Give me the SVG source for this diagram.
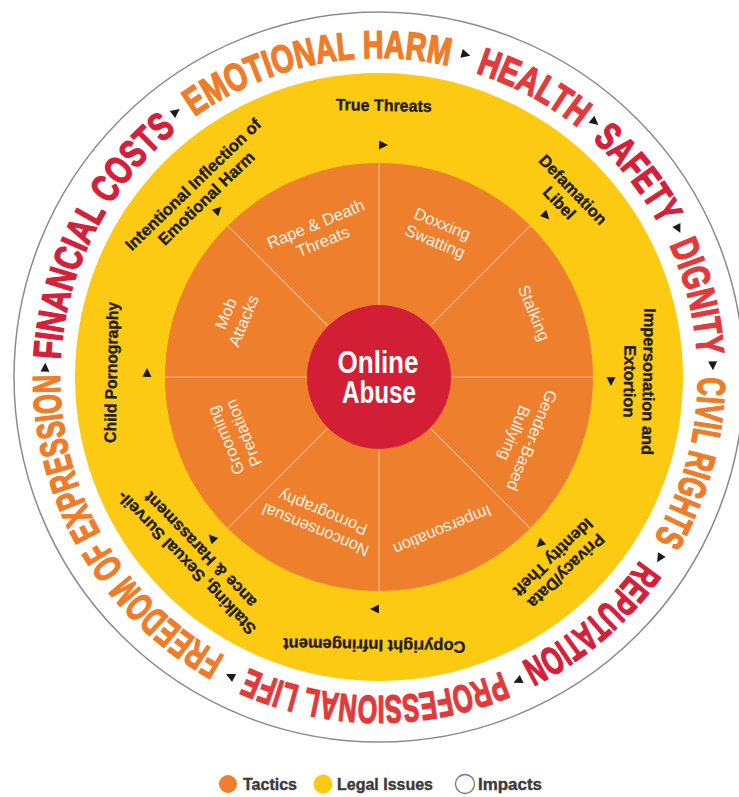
<svg xmlns="http://www.w3.org/2000/svg" width="739" height="797" viewBox="0 0 739 797">
  <style>
    .impact { font-family: "Liberation Sans", Arial, sans-serif; font-weight: 700; font-size: 39px; stroke-width: 1.4px; stroke-linejoin: round; }
    .legal { font-family: "Liberation Sans", Arial, sans-serif; font-weight: 700; font-size: 16.5px; fill: #1e1e1e; stroke: #1e1e1e; stroke-width: 0.35px; text-anchor: middle; }
    .tactic { font-family: "Liberation Sans", Arial, sans-serif; font-weight: 400; font-size: 16.5px; fill: #fdf1e6; text-anchor: middle; }
    .hub { font-family: "Liberation Sans", Arial, sans-serif; font-weight: 700; font-size: 31px; fill: #ffffff; text-anchor: middle; }
    .legend { font-family: "Liberation Sans", Arial, sans-serif; font-weight: 700; font-size: 17px; fill: #3a3a3a; stroke: #3a3a3a; stroke-width: 0.4px; }
    .red { fill: #d4203a; stroke: #d4203a; }
    .bright { fill: #e23a3c; stroke: #e23a3c; }
    .orange { fill: #ee7c28; stroke: #ee7c28; }
    .divider { stroke: #f6b682; stroke-width: 1.2; }
    .arrow { fill: #1a1a1a; }
  </style>
  <defs>
    <!-- two clockwise turns of the impact ring baseline, starting at 12 o'clock -->
    <path id="impactPath" d="M379,58 A319,319 0 0 1 379,696 A319,319 0 0 1 379,58 A319,319 0 0 1 379,696 A319,319 0 0 1 379,58" fill="none"/>
    <path id="tri" d="M-4,-4.5 L5,0 L-4,4.5 Z"/>
  </defs>

  <rect width="739" height="797" fill="#ffffff"/>

  <!-- rings -->
  <g id="ring-impacts">
    <circle cx="379" cy="377" r="365" fill="#ffffff" stroke="#8c8c8c" stroke-width="1.5"/>
  </g>
  <g id="ring-legal">
    <circle cx="379" cy="377" r="304" fill="#fcc913"/>
  </g>
  <g id="ring-tactics">
    <circle cx="379" cy="377" r="214" fill="#ee7f2c"/>
  </g>

  <!-- sector dividers of the tactics ring -->
  <g id="dividers" class="divider">
    <line x1="379" y1="305" x2="379" y2="163" transform="rotate(0 379 377)"/>
    <line x1="379" y1="305" x2="379" y2="163" transform="rotate(45 379 377)"/>
    <line x1="379" y1="305" x2="379" y2="163" transform="rotate(90 379 377)"/>
    <line x1="379" y1="305" x2="379" y2="163" transform="rotate(135 379 377)"/>
    <line x1="379" y1="305" x2="379" y2="163" transform="rotate(180 379 377)"/>
    <line x1="379" y1="305" x2="379" y2="163" transform="rotate(225 379 377)"/>
    <line x1="379" y1="305" x2="379" y2="163" transform="rotate(270 379 377)"/>
    <line x1="379" y1="305" x2="379" y2="163" transform="rotate(315 379 377)"/>
  </g>

  <!-- hub -->
  <g id="online-abuse">
    <circle cx="379" cy="377" r="72" fill="#d31f36"/>
    <text class="hub" x="378" y="373" textLength="81" lengthAdjust="spacingAndGlyphs">Online</text>
    <text class="hub" x="379" y="403" textLength="74" lengthAdjust="spacingAndGlyphs">Abuse</text>
  </g>

  <!-- tactics -->
  <g id="tactic-rape-death-threats" transform="rotate(337.5 379 377)">
    <text class="tactic" x="379" y="217">Rape &amp; Death</text>
    <text class="tactic" x="379" y="236">Threats</text>
  </g>
  <g id="tactic-doxxing-swatting" transform="rotate(22.5 379 377)">
    <text class="tactic" x="379" y="217">Doxxing</text>
    <text class="tactic" x="379" y="236">Swatting</text>
  </g>
  <g id="tactic-stalking" transform="rotate(67.5 379 377)">
    <text class="tactic" x="379" y="215">Stalking</text>
  </g>
  <g id="tactic-gender-based-bullying" transform="rotate(112.5 379 377)">
    <text class="tactic" x="379" y="217">Gender-Based</text>
    <text class="tactic" x="379" y="236">Bullying</text>
  </g>
  <g id="tactic-impersonation" transform="rotate(157.5 379 377)">
    <text class="tactic" x="379" y="217">Impersonation</text>
  </g>
  <g id="tactic-nonconsensual-pornography" transform="rotate(202.5 379 377)">
    <text class="tactic" x="379" y="217">Nonconsensual</text>
    <text class="tactic" x="379" y="236">Pornography</text>
  </g>
  <g id="tactic-grooming-predation" transform="rotate(247.5 379 377)">
    <text class="tactic" x="379" y="217">Grooming</text>
    <text class="tactic" x="379" y="236">Predation</text>
  </g>
  <g id="tactic-mob-attacks" transform="rotate(292.5 379 377)">
    <text class="tactic" x="379" y="217">Mob</text>
    <text class="tactic" x="379" y="236">Attacks</text>
  </g>

  <!-- legal issues -->
  <g id="legal-true-threats" transform="rotate(1 379 377)">
    <text class="legal" x="379" y="111" textLength="96" lengthAdjust="spacingAndGlyphs">True Threats</text>
    <use href="#tri" class="arrow" x="379" y="145"/>
  </g>
  <g id="legal-defamation-libel" transform="rotate(46 379 377)">
    <text class="legal" x="379" y="113">Defamation</text>
    <text class="legal" x="379" y="132">Libel</text>
    <use href="#tri" class="arrow" x="379" y="145"/>
  </g>
  <g id="legal-impersonation-extortion" transform="rotate(91 379 377)">
    <text class="legal" x="379" y="113" textLength="147" lengthAdjust="spacingAndGlyphs">Impersonation and</text>
    <text class="legal" x="379" y="132">Extortion</text>
    <use href="#tri" class="arrow" x="379" y="145"/>
  </g>
  <g id="legal-privacy-identity-theft" transform="rotate(136 379 377)">
    <text class="legal" x="379" y="113">Privacy/Data</text>
    <text class="legal" x="379" y="132">Identity Theft</text>
    <use href="#tri" class="arrow" x="379" y="145"/>
  </g>
  <g id="legal-copyright" transform="rotate(181 379 377)">
    <text class="legal" x="379" y="114">Copyright Infringement</text>
    <use href="#tri" class="arrow" x="379" y="145"/>
  </g>
  <g id="legal-stalking-surveillance" transform="rotate(226 379 377)">
    <text class="legal" x="379" y="115">Stalking, Sexual Surveil-</text>
    <text class="legal" x="379" y="134">ance &amp; Harassment</text>
    <use href="#tri" class="arrow" x="379" y="145"/>
  </g>
  <g id="legal-child-pornography" transform="rotate(271 379 377)">
    <text class="legal" x="379" y="115" textLength="141" lengthAdjust="spacingAndGlyphs">Child Pornography</text>
    <use href="#tri" class="arrow" x="379" y="145"/>
  </g>
  <g id="legal-emotional-harm" transform="rotate(316 379 377)">
    <text class="legal" x="379" y="115">Intentional Inflection of</text>
    <text class="legal" x="379" y="134">Emotional Harm</text>
    <use href="#tri" class="arrow" x="379" y="145"/>
  </g>

  <!-- impacts -->
  <g id="impacts">
    <text class="impact red"><textPath href="#impactPath" startOffset="1519.96" textLength="264.46" lengthAdjust="spacingAndGlyphs">FINANCIAL COSTS</textPath></text>
    <text class="impact orange"><textPath href="#impactPath" startOffset="1806.7" textLength="267.24" lengthAdjust="spacingAndGlyphs">EMOTIONAL HARM</textPath></text>
    <text class="impact bright"><textPath href="#impactPath" startOffset="97.99" textLength="116.92" lengthAdjust="spacingAndGlyphs">HEALTH</textPath></text>
    <text class="impact red"><textPath href="#impactPath" startOffset="233.28" textLength="110.24" lengthAdjust="spacingAndGlyphs">SAFETY</textPath></text>
    <text class="impact bright"><textPath href="#impactPath" startOffset="364.68" textLength="114.69" lengthAdjust="spacingAndGlyphs">DIGNITY</textPath></text>
    <text class="impact orange"><textPath href="#impactPath" startOffset="501.08" textLength="169.81" lengthAdjust="spacingAndGlyphs">CIVIL RIGHTS</textPath></text>
    <text class="impact red"><textPath href="#impactPath" startOffset="695.95" textLength="158.68" lengthAdjust="spacingAndGlyphs">REPUTATION</textPath></text>
    <text class="impact bright"><textPath href="#impactPath" startOffset="875.78" textLength="260.01" lengthAdjust="spacingAndGlyphs">PROFESSIONAL LIFE</textPath></text>
    <text class="impact orange"><textPath href="#impactPath" startOffset="1162.51" textLength="342.41" lengthAdjust="spacingAndGlyphs">FREEDOM OF EXPRESSION</textPath></text>
    <g class="arrow">
      <use href="#tri" x="379" y="43" transform="rotate(322.5 379 377)"/>
      <use href="#tri" x="379" y="43" transform="rotate(15 379 377)"/>
      <use href="#tri" x="379" y="43" transform="rotate(40.2 379 377)"/>
      <use href="#tri" x="379" y="43" transform="rotate(63.6 379 377)"/>
      <use href="#tri" x="379" y="43" transform="rotate(88 379 377)"/>
      <use href="#tri" x="379" y="43" transform="rotate(122.8 379 377)"/>
      <use href="#tri" x="379" y="43" transform="rotate(155.4 379 377)"/>
      <use href="#tri" x="379" y="43" transform="rotate(206.4 379 377)"/>
      <use href="#tri" x="379" y="43" transform="rotate(271.6 379 377)"/>
    </g>
  </g>

  <!-- legend -->
  <g id="legend">
    <circle cx="228" cy="784" r="9" fill="#ee7f2c"/>
    <text class="legend" x="243" y="790" textLength="54" lengthAdjust="spacingAndGlyphs">Tactics</text>
    <circle cx="323" cy="784" r="9.5" fill="#fcc913"/>
    <text class="legend" x="337" y="790" textLength="96" lengthAdjust="spacingAndGlyphs">Legal Issues</text>
    <circle cx="465" cy="784" r="9.5" fill="#ffffff" stroke="#777777" stroke-width="1.3"/>
    <text class="legend" x="478" y="790" textLength="64" lengthAdjust="spacingAndGlyphs">Impacts</text>
  </g>
</svg>
